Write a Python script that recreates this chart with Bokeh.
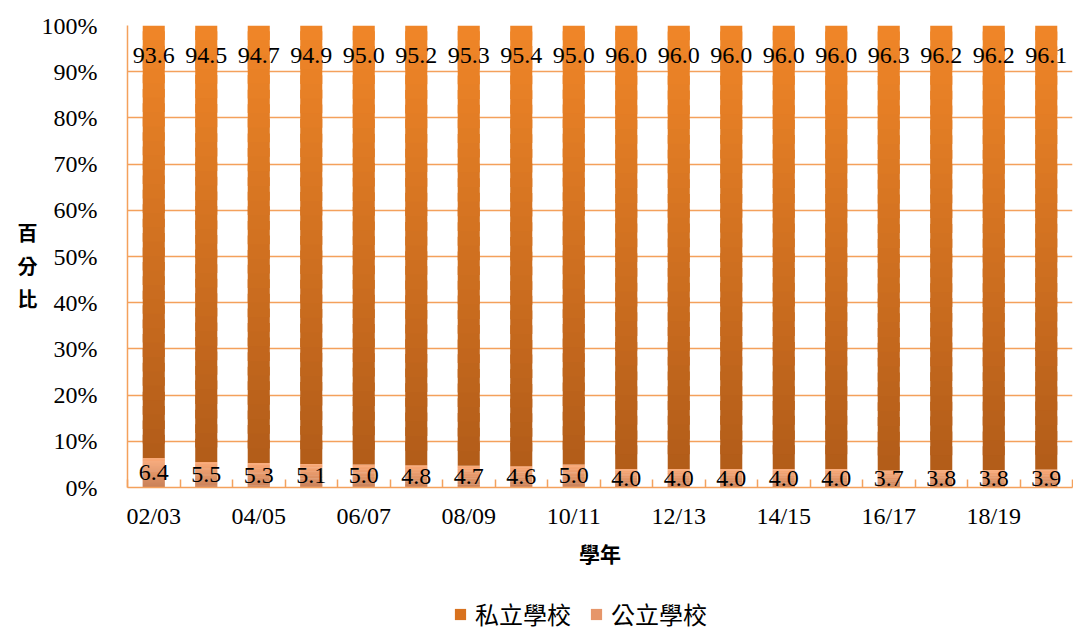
import numpy as np
from bokeh.plotting import figure
from bokeh.layouts import column
from bokeh.models import (ColumnDataSource, FixedTicker, Legend, LegendItem, LinearAxis)
from bokeh.core.properties import value
from bokeh.embed import file_html
from bokeh.resources import INLINE

# ---------------- data ----------------
years = ["02/03", "03/04", "04/05", "05/06", "06/07", "07/08", "08/09", "09/10", "10/11",
         "11/12", "12/13", "13/14", "14/15", "15/16", "16/17", "17/18", "18/19", "19/20"]
public = [6.4, 5.5, 5.3, 5.1, 5.0, 4.8, 4.7, 4.6, 5.0, 4.0, 4.0, 4.0, 4.0, 4.0, 3.7, 3.8, 3.8, 3.9]
private = [93.6, 94.5, 94.7, 94.9, 95.0, 95.2, 95.3, 95.4, 95.0, 96.0, 96.0, 96.0, 96.0, 96.0,
           96.3, 96.2, 96.2, 96.1]
y_ticks = [0, 10, 20, 30, 40, 50, 60, 70, 80, 90, 100]
shown_labels = years[::2]
y_title_chars = ["百", "分", "比"]
series_names = ["私立學校", "公立學校"]

SERIF = "Liberation Serif"
CJK = "Noto Sans CJK TC"
GRID = "#F4A15C"

# gradient colours (top, bottom) for each series
priv_top, priv_bot = np.array([0xF0, 0x86, 0x28]), np.array([0xB2, 0x5C, 0x19])
pub_top, pub_bot = np.array([0xFB, 0xAA, 0x78]), np.array([0xC8, 0x80, 0x58])
LEG_PRIV, LEG_PUB = "#D8721F", "#E6966A"


def gradient_slices(bottoms, tops, c_top, c_bot, k=30):
    xs, bs, ts, cs = [], [], [], []
    for i, (b, t) in enumerate(zip(bottoms, tops)):
        for j in range(k):
            xs.append(i + 0.5)
            bs.append(b + (t - b) * j / k)
            ts.append(min(t, b + (t - b) * (j + 1.6) / k))
            c = c_bot + (c_top - c_bot) * ((j + 0.5) / k)
            cs.append("#%02x%02x%02x" % tuple(int(round(v)) for v in c))
    return dict(x=xs, bottom=bs, top=ts, color=cs)


n = len(years)
pub_arr = np.array(public)
priv_arr = np.array(private)

W = 1073
H1, H2 = 575, 58
p = figure(width=W, height=H1, x_range=(0, n), y_range=(0, 100),
           output_backend="svg", toolbar_location=None,
           min_border_left=127, min_border_right=1, min_border_top=25, min_border_bottom=88)
p.outline_line_color = None
p.background_fill_color = "white"

K = 30
pub_src = ColumnDataSource(gradient_slices(np.zeros(n), pub_arr, pub_top, pub_bot, K))
priv_src = ColumnDataSource(gradient_slices(pub_arr, pub_arr + priv_arr, priv_top, priv_bot, K))

BW = 0.42
p.vbar(x="x", bottom="bottom", top="top", width=BW, source=pub_src,
       fill_color="color", line_color=None)
p.vbar(x="x", bottom="bottom", top="top", width=BW, source=priv_src,
       fill_color="color", line_color=None)

# data labels
centers = np.arange(n) + 0.5
lab_src = ColumnDataSource(dict(
    x=centers,
    y_pub=pub_arr / 2,
    y_priv=np.full(n, 100 - 6.4),
    t_pub=["%.1f" % v for v in public],
    t_priv=["%.1f" % v for v in private],
))
p.text(x="x", y="y_pub", text="t_pub", source=lab_src, text_align="center",
       text_baseline="middle", text_font=value(SERIF), text_font_size="24px", text_color="black")
p.text(x="x", y="y_priv", text="t_priv", source=lab_src, text_align="center",
       text_baseline="middle", text_font=value(SERIF), text_font_size="24px", text_color="black")

# y axis
p.yaxis.ticker = FixedTicker(ticks=y_ticks)
p.yaxis.major_label_overrides = {v: f"{v}%" for v in y_ticks}
p.yaxis.major_tick_line_color = None
p.yaxis.minor_tick_line_color = None
p.yaxis.axis_line_color = GRID
p.yaxis.axis_line_width = 1.5
p.yaxis.major_label_text_font = SERIF
p.yaxis.major_label_text_font_size = "24px"
p.yaxis.major_label_text_color = "black"
p.yaxis.major_label_standoff = 24

# upright stacked y-axis title (百 / 分 / 比) drawn as an outer label axis
title_pos = [55.2, 48.1, 40.9]
ytitle = LinearAxis(ticker=FixedTicker(ticks=title_pos),
                    major_label_overrides={v: c for v, c in zip(title_pos, y_title_chars)},
                    axis_line_color=None, major_tick_line_color=None, minor_tick_line_color=None,
                    major_tick_in=0, major_tick_out=0, minor_tick_in=0, minor_tick_out=0,
                    major_label_text_font=CJK, major_label_text_font_size="20px",
                    major_label_text_font_style="bold", major_label_text_color="black",
                    major_label_standoff=1)
p.add_layout(ytitle, "left")

# x axis
x_major = [i + 0.5 for i in range(0, n, 2)]
p.xaxis.ticker = FixedTicker(ticks=x_major, minor_ticks=list(range(n + 1)))
p.xaxis.major_label_overrides = {t: lab for t, lab in zip(x_major, shown_labels)}
p.xaxis.major_tick_line_color = None
p.xaxis.minor_tick_line_color = GRID
p.xaxis.minor_tick_line_width = 1.5
p.xaxis.minor_tick_in = 8
p.xaxis.minor_tick_out = 0
p.xaxis.axis_line_color = GRID
p.xaxis.axis_line_width = 1.5
p.xaxis.major_label_text_font = SERIF
p.xaxis.major_label_text_font_size = "24px"
p.xaxis.major_label_text_color = "black"
p.xaxis.major_label_standoff = 9
p.xaxis.axis_label = "學年"
p.xaxis.axis_label_text_font = CJK
p.xaxis.axis_label_text_font_size = "21px"
p.xaxis.axis_label_text_font_style = "bold"
p.xaxis.axis_label_text_color = "black"
p.xaxis.axis_label_standoff = 6

p.xgrid.grid_line_color = None
p.ygrid.ticker = FixedTicker(ticks=y_ticks)
p.ygrid.grid_line_color = GRID
p.ygrid.grid_line_width = 1.5

# legend strip below the chart (zero-height key bars only supply the legend swatches)
lg = figure(width=W, height=H2, x_range=(0, 1), y_range=(0, 1), output_backend="svg",
            toolbar_location=None, x_axis_type=None, y_axis_type=None,
            min_border_left=0, min_border_right=0, min_border_top=0, min_border_bottom=0)
lg.outline_line_color = None
lg.grid.visible = False
key_priv = lg.vbar(x=[0.5], bottom=[0], top=[0], width=0.0, fill_color=LEG_PRIV, line_color=None)
key_pub = lg.vbar(x=[0.5], bottom=[0], top=[0], width=0.0, fill_color=LEG_PUB, line_color=None)
legend = Legend(items=[LegendItem(label=series_names[0], renderers=[key_priv]),
                       LegendItem(label=series_names[1], renderers=[key_pub])],
                location=(326, 2), orientation="horizontal",
                glyph_width=14, glyph_height=14, label_standoff=8, spacing=18,
                padding=0, margin=0, border_line_color=None, background_fill_alpha=0,
                label_text_font=CJK, label_text_font_size="24px", label_text_color="black")
lg.add_layout(legend, "center")

layout = column(p, lg, spacing=0)
open("out.html", "w").write(file_html(layout, INLINE))
